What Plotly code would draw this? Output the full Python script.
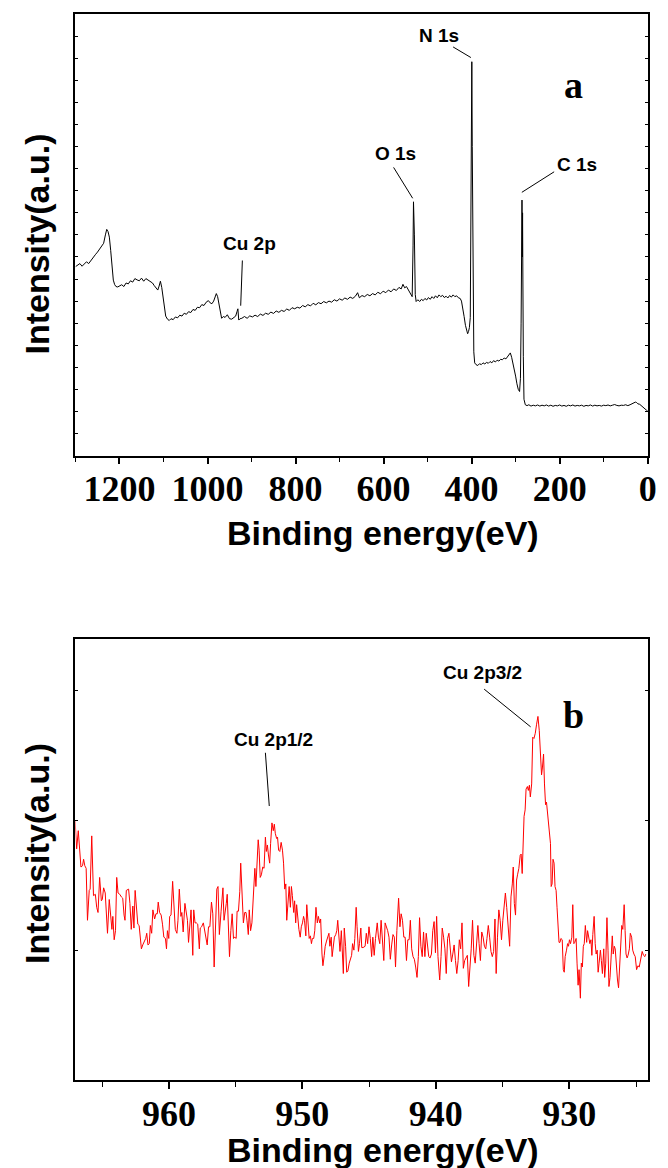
import plotly.graph_objects as go

# ---------------- data: (a) survey spectrum ----------------
be_survey = [1300,1295,1290,1285,1280,1275,1270,1265,1260,1255,1250,1245,1240,1236,1232,1229,1226,1223,1220,1217,
             1214,1211,1208,1204,1200,1195,1190,1185,1180,1175,1170,1165,1160,1155,1150,1145,1140,1135,1130,1125,
             1121,1117,1113,1110,1107,1104,1101,1098,1095,1091,1087,1083,1078,1073,1068,1063,1058,1053,1048,1043,
             1038,1033,1028,1023,1018,1013,1008,1003,998,994,990,986,983,980,977,974,971,968,964,960,
             955,950,945,940,936,933,931,929,926,922,916,910,904,898,892,886,880,874,868,862,
             856,850,844,838,832,826,820,814,808,802,796,790,784,778,772,766,760,754,748,742,
             736,730,724,718,712,706,700,694,688,682,676,670,664,659,655,649,643,637,631,625,
             619,613,607,601,595,589,583,577,571,565,560,556,552,548,544,540,537,535,533,532,
             530,528,526,522,518,514,510,506,502,498,494,490,486,482,478,474,470,466,462,458,
             454,450,446,442,438,434,430,426,423,420,417,414,411,409,407,405,403,401,399.5,398.5,
             397,395,393,390,386,382,378,374,370,366,362,358,354,350,346,342,338,334,330,326,
             322,318,315,312,309,306,303,300,297,294,291,289,287.5,286.5,285.5,284.8,284.2,283.5,282.5,281,
             278,274,270,265,260,255,250,245,240,235,230,225,220,215,210,205,200,195,190,185,
             180,175,170,165,160,155,150,145,140,135,130,125,120,115,110,105,100,95,90,85,
             80,75,70,65,60,55,50,45,40,36,32,28,25,22,18,14,10,6,3,0]
int_survey = [8.56,8.62,8.70,8.58,8.66,8.78,8.70,8.85,8.95,9.10,9.22,9.35,9.48,9.62,10.00,10.25,10.15,9.90,9.30,8.50,
              7.95,7.75,7.66,7.64,7.70,7.74,7.66,7.82,7.78,7.92,7.86,8.02,7.96,7.92,8.04,7.90,8.02,7.94,7.90,7.82,
              7.70,7.58,7.50,7.68,7.90,7.62,7.10,6.70,6.32,6.18,6.12,6.20,6.16,6.28,6.24,6.36,6.32,6.45,6.40,6.52,
              6.48,6.62,6.58,6.72,6.70,6.84,6.80,6.95,7.02,6.92,6.88,7.00,7.14,7.34,7.20,6.80,6.45,6.22,6.30,6.26,
              6.38,6.20,6.18,6.26,6.32,6.52,6.65,6.14,6.20,6.22,6.30,6.22,6.33,6.28,6.36,6.30,6.41,6.35,6.45,6.40,
              6.50,6.44,6.55,6.49,6.58,6.53,6.64,6.58,6.70,6.65,6.72,6.68,6.80,6.74,6.84,6.78,6.90,6.83,6.93,6.88,
              6.98,6.92,7.00,6.95,7.06,7.00,7.10,7.04,7.14,7.08,7.18,7.12,7.22,7.38,7.15,7.25,7.20,7.30,7.24,7.34,
              7.28,7.40,7.33,7.45,7.38,7.50,7.42,7.55,7.48,7.62,7.55,7.76,7.60,7.66,7.52,7.40,7.25,7.20,9.50,11.50,
              10.00,7.30,6.98,7.06,6.98,7.08,7.02,7.12,7.05,7.16,7.08,7.20,7.12,7.24,7.15,7.28,7.20,7.26,7.16,7.22,
              7.14,7.25,7.18,7.28,7.20,7.24,7.15,7.12,7.00,6.70,6.30,5.90,5.58,5.52,5.62,5.80,6.25,12.00,17.85,14.00,
              8.00,4.70,4.20,4.12,4.08,4.16,4.12,4.20,4.15,4.22,4.18,4.26,4.20,4.30,4.24,4.32,4.28,4.36,4.34,4.42,
              4.38,4.48,4.60,4.65,4.45,4.20,3.95,3.60,3.25,3.00,2.90,3.50,6.00,9.50,11.58,9.00,11.00,8.00,4.50,2.55,
              2.30,2.26,2.30,2.24,2.28,2.25,2.29,2.24,2.28,2.25,2.29,2.24,2.28,2.23,2.27,2.25,2.29,2.24,2.27,2.23,
              2.28,2.25,2.29,2.24,2.27,2.25,2.28,2.23,2.27,2.25,2.29,2.24,2.28,2.25,2.27,2.24,2.28,2.26,2.29,2.25,
              2.28,2.31,2.27,2.25,2.28,2.27,2.30,2.26,2.30,2.33,2.36,2.42,2.40,2.34,2.32,2.25,2.15,2.10,2.06,2.03]

# ---------------- data: (b) Cu 2p spectrum ----------------
be_cu = [967.03,966.91,966.79,966.59,966.47,966.39,966.30,966.20,966.10,965.97,965.90,965.78,965.65,
         965.51,965.41,965.31,965.19,965.06,964.99,964.89,964.77,964.60,964.47,964.37,964.27,964.20,964.10,964.00,963.91,963.81,
         963.68,963.56,963.46,963.36,963.29,963.19,963.02,962.92,962.82,962.70,962.62,962.53,962.43,962.33,962.23,962.16,962.06,961.96,961.86,961.74,
         961.66,961.57,961.47,961.39,961.29,961.20,961.07,960.97,960.87,960.80,960.70,960.58,960.48,960.38,960.26,960.18,960.11,960.01,959.94,959.84,
         959.72,959.62,959.52,959.40,959.32,959.22,959.10,959.03,958.93,958.80,958.71,958.61,958.53,958.43,958.34,958.21,958.14,958.04,957.94,957.84,
         957.72,957.65,957.55,957.42,957.35,957.25,957.13,957.03,956.93,956.81,956.71,956.61,956.49,956.41,956.32,956.22,956.09,
         955.95,955.87,955.80,955.70,955.63,955.53,955.46,955.36,955.26,955.16,955.06,954.96,954.89,954.79,954.69,954.62,954.52,954.42,954.32,954.22,
         954.15,954.05,953.98,953.88,953.78,953.71,953.63,953.56,953.48,953.41,953.31,953.24,953.16,953.07,952.97,952.87,952.77,952.70,952.62,952.55,
         952.45,952.38,952.28,952.18,952.10,952.03,951.93,951.86,951.78,951.69,951.59,951.49,951.41,951.32,951.24,951.17,951.07,950.99,950.90,950.82,
         950.75,950.65,950.58,950.50,950.43,950.33,950.26,950.16,950.08,949.99,949.91,949.84,949.74,949.67,949.57,949.49,949.40,949.32,949.25,949.15,
         949.07,948.98,948.88,948.80,948.70,948.63,948.53,948.46,948.36,948.29,948.19,948.11,948.01,947.94,947.84,947.77,947.67,947.60,947.50,947.42,
         947.35,947.25,947.18,947.08,947.00,946.93,946.86,946.76,946.68,946.59,946.49,946.41,946.31,946.24,946.14,946.07,945.97,945.90,945.80,945.72,
         945.62,945.55,945.45,945.30,
         945.21,945.11,945.01,944.91,944.81,944.72,944.62,944.52,944.39,944.30,944.20,944.10,944.00,943.90,943.80,943.70,943.61,943.51,943.41,943.31,
         943.21,943.11,943.02,942.92,942.79,942.69,942.60,942.50,942.40,942.30,942.20,942.10,942.00,941.91,941.81,941.71,941.61,941.51,941.41,941.31,
         941.22,941.12,941.02,940.92,940.82,940.72,940.63,940.53,940.43,940.33,940.23,940.13,940.03,939.94,939.84,939.71,939.61,939.52,939.42,939.32,
         939.22,939.12,939.02,938.92,938.83,938.73,938.63,938.53,938.43,938.33,938.24,938.14,938.04,937.94,937.84,937.74,937.64,937.54,937.45,937.35,
         937.25,937.15,937.05,936.95,936.85,936.76,936.66,936.56,936.46,936.36,936.26,936.17,936.07,935.97,935.87,935.77,935.67,935.57,935.48,935.38,
         935.28,935.18,935.08,934.98,934.88,934.79,934.69,934.56,
         934.47,934.37,934.27,934.20,934.12,934.03,933.95,933.88,933.78,933.68,933.61,933.53,933.46,933.39,933.31,933.24,933.14,933.07,932.99,932.92,
         932.82,932.74,932.65,932.55,932.45,932.35,932.25,932.18,932.08,932.01,931.93,931.86,931.78,931.71,931.61,931.51,931.41,931.36,931.29,931.22,
         931.14,931.07,930.99,930.92,930.85,930.77,930.70,930.63,930.53,930.45,930.38,930.31,930.21,930.13,930.06,929.99,929.91,929.81,929.74,929.66,
         929.59,929.49,929.42,929.34,929.27,929.17,929.10,929.02,928.95,928.88,928.80,928.70,928.63,928.56,928.46,928.38,928.31,928.24,928.14,928.06,
         927.99,927.91,927.84,927.77,927.67,927.60,927.52,927.42,927.35,927.27,927.18,927.10,927.03,926.95,926.86,926.78,926.71,926.63,926.56,926.46,
         926.39,926.31,926.21,926.14,926.07,925.99,925.89,925.82,925.75,925.67,925.60,925.50,925.43,925.33,925.25,925.16,925.06,924.96,924.86,924.76,
         924.64,924.54,924.44,924.34,924.27]
int_cu = [2.00,1.78,1.92,1.64,1.65,1.70,1.65,1.63,1.23,1.46,1.47,1.88,1.42,
          1.43,1.33,1.29,1.56,1.38,1.39,1.48,1.44,1.13,1.39,1.26,1.16,1.26,1.08,1.15,1.56,1.44,
          1.43,1.41,1.40,1.27,1.23,1.46,1.47,1.36,1.16,1.34,1.17,1.46,1.31,1.20,1.19,1.10,1.01,1.04,1.06,1.09,
          1.13,1.04,1.05,1.19,1.13,1.31,1.24,1.28,1.28,1.37,1.29,1.27,1.20,1.10,1.09,1.01,1.15,1.09,1.26,1.27,
          1.53,1.33,1.16,1.13,1.23,1.47,1.26,1.29,1.14,1.36,1.29,1.23,1.06,1.18,1.31,0.96,1.31,1.21,1.21,1.20,
          1.01,1.17,1.18,1.21,1.17,1.10,1.04,1.18,1.18,1.37,1.28,0.87,1.26,1.47,1.49,1.12,1.30,
          1.48,1.23,1.31,1.36,1.43,1.15,0.95,1.15,1.28,1.09,1.10,1.09,1.30,1.30,1.45,1.67,1.36,1.21,1.29,1.29,
          1.23,1.12,1.31,1.15,1.21,1.36,1.44,1.63,1.49,1.62,1.85,1.77,1.56,1.58,1.64,1.63,1.87,1.76,1.81,1.74,
          1.67,1.82,1.98,1.92,1.97,1.90,1.86,1.87,1.77,1.76,1.83,1.77,1.67,1.47,1.51,1.23,1.41,1.49,1.33,1.49,
          1.42,1.29,1.38,1.21,1.35,1.21,1.16,1.10,1.18,1.21,1.26,1.23,1.11,1.35,1.17,1.09,1.11,1.05,1.09,1.09,
          1.15,1.33,1.21,1.26,1.21,1.24,0.97,0.88,0.96,1.03,1.07,1.10,1.13,1.03,1.10,0.95,1.04,1.10,1.12,1.15,
          1.23,1.09,0.99,1.15,0.95,0.82,1.17,1.03,0.83,0.84,0.90,0.92,0.96,1.05,1.00,1.09,1.33,1.18,0.99,1.05,
          1.17,1.02,1.02,1.03,
          1.13,1.05,1.18,1.09,0.95,1.10,0.96,1.09,1.21,1.10,1.05,1.23,1.10,0.92,1.21,1.18,1.15,1.10,0.93,1.04,
          1.12,1.10,0.87,1.15,1.40,1.18,1.28,1.23,1.10,1.10,0.92,1.08,1.08,1.23,1.01,0.95,0.93,0.87,0.79,0.95,
          1.25,1.03,0.95,1.14,0.95,1.13,1.05,0.95,0.94,0.97,1.15,1.22,0.98,1.26,0.95,0.77,0.95,1.17,1.10,1.01,
          0.82,1.09,1.13,1.03,0.91,0.97,1.04,0.92,0.82,0.92,1.08,1.01,1.21,0.86,0.92,0.94,0.96,0.72,0.83,1.01,
          1.23,0.96,0.90,1.05,1.19,1.05,0.92,1.14,1.10,1.03,1.01,1.09,1.19,1.10,0.99,0.95,0.99,1.24,0.82,1.10,
          1.31,1.23,1.08,1.23,1.34,1.44,1.33,1.18,
          1.03,1.41,1.51,1.64,1.36,1.27,1.54,1.58,1.63,1.73,1.74,1.59,1.92,2.03,2.08,2.24,2.26,2.23,2.27,2.18,
          2.28,2.64,2.63,2.67,2.74,2.80,2.69,2.51,2.35,2.41,2.51,2.28,2.12,2.14,2.01,1.94,1.82,1.49,1.51,1.70,
          1.67,1.49,1.46,1.33,1.21,1.06,1.06,1.09,1.08,0.85,0.83,0.95,1.00,1.05,1.03,1.08,1.05,1.10,1.35,1.05,
          1.06,1.09,0.90,0.73,0.85,0.63,0.90,0.87,1.03,1.05,1.19,1.06,1.15,1.10,1.05,1.08,0.96,1.12,1.26,1.05,
          0.97,1.00,0.83,0.90,1.00,0.92,0.82,1.01,0.79,0.90,1.25,1.00,0.72,0.79,0.95,1.11,0.97,1.03,1.01,0.82,
          0.77,0.71,0.92,1.08,1.19,1.16,1.35,1.15,0.97,0.94,0.96,1.01,1.13,1.10,1.00,0.97,0.95,0.85,0.88,0.87,
          0.95,0.99,0.96,0.95,0.97]

# peak labels: (text, label x, label y, leader start x, y, leader end x, y)
labels_a = [("N 1s", 474, 19.05, 442, 18.52, 401.6, 18.04),
            ("O 1s", 572.7, 13.71, 577.2, 13.06, 533.9, 11.66),
            ("C 1s", 160.2, 13.21, 212.5, 12.86, 285.8, 11.93),
            ("Cu 2p", 904.4, 9.59, 920.8, 8.84, 924.6, 6.79)]
labels_b = [("Cu 2p1/2", 952.14, 2.62, 952.77, 2.52, 952.48, 2.11),
            ("Cu 2p3/2", 936.51, 3.14, 936.38, 3.01, 932.90, 2.72)]

W, H = 668, 1168
XD = [76.5 / W, 656.5 / W]
YD_A = [1 - 455.5 / H, 1 - 14.3 / H]
YD_B = [1 - 1080 / H, 1 - 638.5 / H]

fig = go.Figure()
fig.add_trace(go.Scatter(x=be_survey, y=int_survey, mode="lines",
                         line=dict(color="black", width=1), xaxis="x", yaxis="y",
                         showlegend=False, hoverinfo="skip"))
fig.add_trace(go.Scatter(x=be_cu, y=int_cu, mode="lines",
                         line=dict(color="#ff0000", width=1), xaxis="x2", yaxis="y2",
                         showlegend=False, hoverinfo="skip"))

tickfont = dict(family="Liberation Serif, Times New Roman, serif", size=36, color="black", weight="bold")
base = dict(showline=True, linecolor="black", linewidth=1.5, showgrid=False, zeroline=False)

fig.update_layout(
    width=W, height=H, margin=dict(l=0, r=0, t=0, b=0),
    paper_bgcolor="white", plot_bgcolor="white",
    xaxis=dict(domain=XD, anchor="y", range=[1300, 0], mirror=True,
               tickmode="linear", tick0=0, dtick=200, tickformat="d",
               ticks="outside", ticklen=7, tickwidth=1.5, tickcolor="black", ticklabelstandoff=-6,
               minor=dict(tick0=0, dtick=100, ticks="outside", ticklen=5, tickwidth=1.2, tickcolor="black"),
               tickfont=tickfont, **base),
    yaxis=dict(domain=YD_A, anchor="x", range=[0, 20], mirror="ticks",
               tickmode="linear", tick0=0, dtick=1, showticklabels=False,
               ticks="inside", ticklen=3, tickwidth=1.2, tickcolor="black", **base),
    xaxis2=dict(domain=XD, anchor="y2", range=[967, 924.13], mirror=True,
                tickmode="linear", tick0=930, dtick=10, tickformat="d",
                ticks="outside", ticklen=7, tickwidth=1.5, tickcolor="black", ticklabelstandoff=-6,
                minor=dict(tick0=925, dtick=5, ticks="outside", ticklen=5, tickwidth=1.2, tickcolor="black"),
                tickfont=tickfont, **base),
    yaxis2=dict(domain=YD_B, anchor="x2", range=[0, 3.4], mirror="ticks",
                tickmode="linear", tick0=0, dtick=1, showticklabels=False,
                ticks="inside", ticklen=3, tickwidth=1.2, tickcolor="black", **base),
)

sans = "Liberation Sans, Arial, sans-serif"
serif = "Liberation Serif, Times New Roman, serif"
ann = []
shapes = []
for (t, lx, ly, x0, y0, x1, y1), (xr, yr) in [(l, ("x", "y")) for l in labels_a] + [(l, ("x2", "y2")) for l in labels_b]:
    ann.append(dict(text=t, x=lx, y=ly, xref=xr, yref=yr, showarrow=False,
                    font=dict(family=sans, size=19, color="black", weight="bold")))
    shapes.append(dict(type="line", xref=xr, yref=yr, x0=x0, y0=y0, x1=x1, y1=y1,
                       line=dict(color="black", width=1)))

ann.append(dict(text="a", x=169.2, y=16.79, xref="x", yref="y", showarrow=False,
                font=dict(family=serif, size=38, color="black", weight="bold")))
ann.append(dict(text="b", x=929.71, y=2.81, xref="x2", yref="y2", showarrow=False,
                font=dict(family=serif, size=38, color="black", weight="bold")))

title_font = dict(family=sans, size=34, color="black", weight="bold")
for yy in [1 - 533 / H, 1 - 1150 / H]:
    ann.append(dict(text="Binding energy(eV)", x=388 / W, y=yy, xref="paper", yref="paper",
                    showarrow=False, xanchor="center", yanchor="middle", font=title_font))
for yy in [1 - 244 / H, 1 - 853.5 / H]:
    ann.append(dict(text="Intensity(a.u.)", x=37 / W, y=yy, xref="paper", yref="paper",
                    showarrow=False, textangle=-90, xanchor="center", yanchor="middle", font=title_font))

fig.update_layout(annotations=ann, shapes=shapes)
fig.write_html("out.html")
